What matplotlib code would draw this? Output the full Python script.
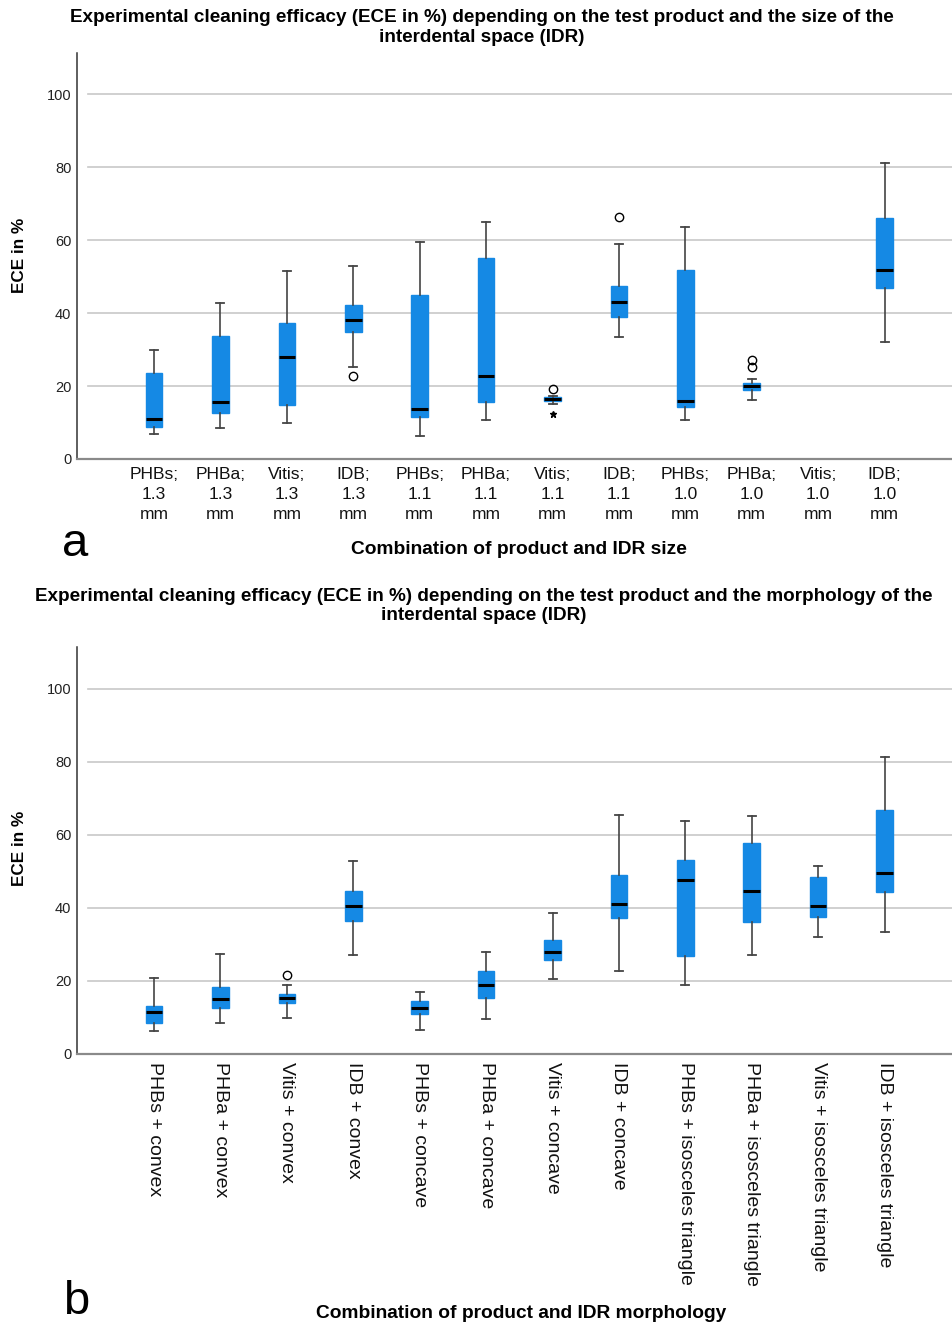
import matplotlib
matplotlib.use('Agg')
import matplotlib.pyplot as plt

plt.rcParams['font.family'] = ['Liberation Sans', 'DejaVu Sans']

# Panel a: product + IDR size
size_labels = ['PHBs;\n1.3\nmm', 'PHBa;\n1.3\nmm', 'Vitis;\n1.3\nmm', 'IDB;\n1.3\nmm',
               'PHBs;\n1.1\nmm', 'PHBa;\n1.1\nmm', 'Vitis;\n1.1\nmm', 'IDB;\n1.1\nmm',
               'PHBs;\n1.0\nmm', 'PHBa;\n1.0\nmm', 'Vitis;\n1.0\nmm', 'IDB;\n1.0\nmm']
# None = no data for that group
size_low = [6.8, 8.6, 10.0, 25.2, 6.3, 10.8, 15.0, 33.4, 10.7, 16.1, None, 32.0]
size_q1 = [8.8, 12.5, 14.8, 34.7, 11.6, 15.7, 16.0, 38.9, 14.2, 18.9, None, 46.9]
size_med = [10.9, 15.7, 27.9, 38.0, 13.6, 22.7, 16.5, 43.0, 15.9, 19.9, None, 51.8]
size_q3 = [23.6, 33.8, 37.4, 42.3, 45.1, 55.2, 16.9, 47.4, 51.8, 20.8, None, 66.1]
size_high = [29.8, 42.7, 51.6, 53.0, 59.4, 65.0, 17.3, 59.1, 63.6, 22.0, None, 81.1]
size_outliers = [[], [], [], [22.8], [], [], [19.1], [66.4], [], [27.2, 25.2], [], []]
size_extremes = [[], [], [], [], [], [], [12.3], [], [], [], [], []]

# Panel b: product + IDR morphology
morph_labels = ['PHBs + convex', 'PHBa + convex', 'Vitis + convex', 'IDB + convex',
                'PHBs + concave', 'PHBa + concave', 'Vitis + concave', 'IDB + concave',
                'PHBs + isosceles triangle', 'PHBa + isosceles triangle',
                'Vitis + isosceles triangle', 'IDB + isosceles triangle']
morph_low = [6.2, 8.3, 9.8, 27.1, 6.6, 9.6, 20.5, 22.8, 18.9, 27.0, 31.9, 33.4]
morph_q1 = [8.4, 12.6, 13.8, 36.5, 10.8, 15.4, 25.7, 37.3, 26.8, 36.2, 37.6, 44.4]
morph_med = [11.3, 15.1, 15.2, 40.6, 12.6, 18.8, 27.9, 41.0, 47.5, 44.6, 40.6, 49.6]
morph_q3 = [13.2, 18.2, 16.4, 44.6, 14.5, 22.6, 31.2, 49.0, 53.2, 57.7, 48.4, 66.7]
morph_high = [20.8, 27.2, 18.9, 52.9, 16.9, 27.8, 38.5, 65.5, 63.7, 65.1, 51.5, 81.4]
morph_outliers = [[], [], [21.6], [], [], [], [], [], [], [], [], []]

BLUE = '#1589e4'
H = 1326.0
W = 953.0


def fy(px):
    return 1 - px / H


def draw_panel(ax, low, q1, med, q3, high, outliers, extremes=None):
    stats = []
    pos = []
    for i in range(len(med)):
        if med[i] is None:
            continue
        stats.append(dict(whislo=low[i], q1=q1[i], med=med[i], q3=q3[i],
                          whishi=high[i], fliers=outliers[i]))
        pos.append(i + 1)
    ax.bxp(stats, positions=pos, widths=0.25, capwidths=0.12, patch_artist=True,
           boxprops=dict(facecolor=BLUE, edgecolor=BLUE, linewidth=1),
           medianprops=dict(color='black', linewidth=2.2),
           whiskerprops=dict(color='#444444', linewidth=1.2),
           capprops=dict(color='#444444', linewidth=1.3),
           flierprops=dict(marker='o', markersize=6, markerfacecolor='none',
                           markeredgecolor='black', markeredgewidth=1))
    if extremes:
        for i, vals in enumerate(extremes):
            for v in vals:
                ax.plot(i + 1, v, marker='*', color='black', markersize=5)
    ax.set_xlim(-0.16, 13.03)
    ax.set_ylim(0, 111.5)
    ax.set_yticks([0, 20, 40, 60, 80, 100])
    ax.tick_params(axis='y', length=0, labelsize=10.5, pad=4, labelcolor='#222222')
    ax.tick_params(axis='x', length=0)
    for y in [20, 40, 60, 80, 100]:
        ax.axhline(y, xmin=0.012, color='#c8c8c8', linewidth=1.2, zorder=0)
    ax.spines['top'].set_visible(False)
    ax.spines['right'].set_visible(False)
    ax.spines['left'].set_color('#333333')
    ax.spines['left'].set_linewidth(1.1)
    ax.spines['bottom'].set_color('#8a8a8a')
    ax.spines['bottom'].set_linewidth(1.6)


fig = plt.figure(figsize=(9.53, 13.26), dpi=100)

# panel a
ax1 = fig.add_axes([77 / W, fy(459), 1 - 77 / W, (459 - 52.5) / H])
draw_panel(ax1, size_low, size_q1, size_med, size_q3, size_high, size_outliers, size_extremes)
ax1.set_xticks(range(1, 13))
ax1.set_xticklabels(size_labels, fontsize=12.5, linespacing=1.4, color='#111111')
ax1.tick_params(axis='x', pad=6)

# panel b
ax2 = fig.add_axes([77 / W, fy(1053.7), 1 - 77 / W, (1053.7 - 647) / H])
draw_panel(ax2, morph_low, morph_q1, morph_med, morph_q3, morph_high, morph_outliers)
ax2.set_xticks(range(1, 13))
ax2.set_xticklabels(morph_labels, rotation=270, fontsize=14, va='top', ha='center',
                    color='#111111')
ax2.tick_params(axis='x', pad=6)

# titles, two lines each
fig.text(482 / W, fy(18), 'Experimental cleaning efficacy (ECE in %) depending on the test product and the size of the',
         ha='center', va='center', fontsize=13.6, fontweight='bold')
fig.text(482 / W, fy(37), 'interdental space (IDR)',
         ha='center', va='center', fontsize=13.6, fontweight='bold')
fig.text(484 / W, fy(597), 'Experimental cleaning efficacy (ECE in %) depending on the test product and the morphology of the',
         ha='center', va='center', fontsize=13.6, fontweight='bold')
fig.text(484 / W, fy(616), 'interdental space (IDR)',
         ha='center', va='center', fontsize=13.6, fontweight='bold')

fig.text(20 / W, fy(255), 'ECE in %', rotation=90, ha='center', va='center',
         fontsize=12.3, fontweight='bold')
fig.text(20 / W, fy(848), 'ECE in %', rotation=90, ha='center', va='center',
         fontsize=12.3, fontweight='bold')

fig.text(519 / W, fy(549), 'Combination of product and IDR size', ha='center', va='center',
         fontsize=13.8, fontweight='bold')
fig.text(521 / W, fy(1314), 'Combination of product and IDR morphology', ha='center', va='center',
         fontsize=13.8, fontweight='bold')

fig.text(75 / W, fy(556), 'a', ha='center', va='baseline', fontsize=34)
fig.text(76 / W, fy(1324), 'b', ha='center', va='bottom', fontsize=34)

fig.savefig('out.png', dpi=100)
plt.close(fig)
